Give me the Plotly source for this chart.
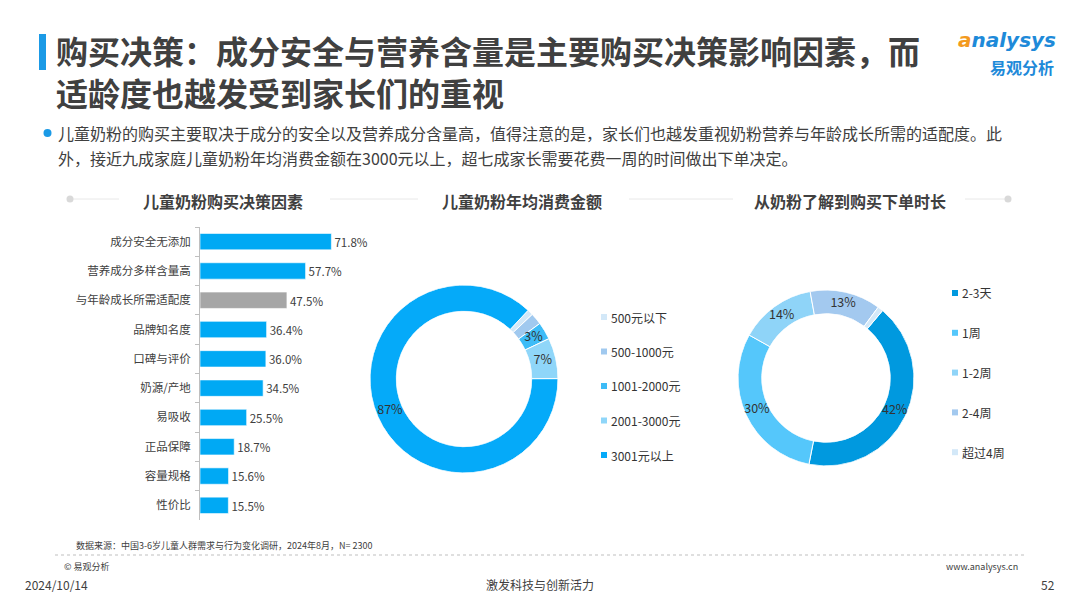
import plotly.graph_objects as go

W, H = 1080, 608
FONT = "Noto Sans CJK SC"

# ---------------- data ----------------
factor_labels = ["成分安全无添加", "营养成分多样含量高", "与年龄成长所需适配度", "品牌知名度", "口碑与评价",
                 "奶源/产地", "易吸收", "正品保障", "容量规格", "性价比"]
factor_values = [71.8, 57.7, 47.5, 36.4, 36.0, 34.5, 25.5, 18.7, 15.6, 15.5]
factor_highlight = "与年龄成长所需适配度"

spend_labels = ["500元以下", "500-1000元", "1001-2000元", "2001-3000元", "3001元以上"]
spend_values = [1, 2, 3, 7, 87]
spend_text = ["", "", "3%", "7%", "87%"]
spend_colors = ["#d3e8f8", "#a0c9ef", "#3dbcf7", "#8fd6f9", "#05aaf9"]

time_labels = ["2-3天", "1周", "1-2周", "2-4周", "超过4周"]
time_values = [42, 30, 14, 13, 1]
time_text = ["42%", "30%", "14%", "13%", ""]
time_colors = ["#0099df", "#55c7fb", "#8fd4f8", "#a3c9ef", "#d3e8f8"]

section_titles = ["儿童奶粉购买决策因素", "儿童奶粉年均消费金额", "从奶粉了解到购买下单时长"]


def px(x):
    return x / W


def py(y):
    return 1 - y / H


def slice_geometry(values, start):
    total = float(sum(values))
    mids, widths, acc = [], [], 0.0
    for v in values:
        mids.append(start + (acc + v / 2.0) / total * 360.0)
        widths.append(v / total * 360.0)
        acc += v
    return mids, widths


fig = go.Figure()

# ---------------- bar chart ----------------
bar_colors = ["#a6a6a6" if c == factor_highlight else "#00a9f4" for c in factor_labels]
fig.add_trace(go.Bar(
    x=factor_values, y=factor_labels, orientation="h",
    marker=dict(color=bar_colors, line=dict(color="rgba(255,255,255,0.6)", width=1)),
    texttemplate="%{x:.1f}%", textposition="outside", cliponaxis=False,
    textfont=dict(family=FONT, size=12, color="#404040"),
    xaxis="x", yaxis="y", showlegend=False, hoverinfo="skip",
))

# ---------------- donuts (polar ring) ----------------
for vals, labs, cols, txt, start, sub in [
    (spend_values, spend_labels, spend_colors, spend_text, 43, "polar"),
    (time_values, time_labels, time_colors, time_text, 40, "polar2"),
]:
    mids, widths = slice_geometry(vals, start)
    fig.add_trace(go.Barpolar(
        r=[1] * len(vals), theta=mids, width=widths, base=0,
        marker=dict(color=cols, line=dict(color="white", width=1)),
        customdata=labs, hovertemplate="%{customdata}<extra></extra>",
        subplot=sub, showlegend=False,
    ))
    fig.add_trace(go.Scatterpolar(
        r=[0.5] * len(vals), theta=mids, text=txt, mode="text",
        textfont=dict(family=FONT, size=12.5, color="#333333"),
        subplot=sub, showlegend=False, hoverinfo="skip", cliponaxis=False,
    ))

polar_common = dict(
    bgcolor="rgba(0,0,0,0)", bargap=0,
    angularaxis=dict(direction="clockwise", rotation=90, visible=False),
    radialaxis=dict(range=[0, 1], visible=False),
)

annotations = []
shapes = []

# title bar
shapes.append(dict(type="rect", xref="paper", yref="paper", x0=px(39), x1=px(46), y0=py(70), y1=py(34),
                   fillcolor="#1b9ae6", line=dict(width=0), layer="above"))

annotations.append(dict(x=px(54), y=py(71), xref="paper", yref="paper", xanchor="left", yanchor="middle",
                        align="left", showarrow=False,
                        text="<b>购买决策：成分安全与营养含量是主要购买决策影响因素，而</b><br><b>适龄度也越发受到家长们的重视</b>",
                        font=dict(family=FONT, size=32, color="#404040")))

# logo
annotations.append(dict(x=px(1058), y=py(40), xref="paper", yref="paper", xanchor="right", yanchor="middle",
                        showarrow=False,
                        text="<i><b><span style='color:#f39a1e'>a</span>nalysys</b></i>",
                        font=dict(family="DejaVu Sans", size=20, color="#1e8ad9")))
annotations.append(dict(x=px(1056), y=py(67), xref="paper", yref="paper", xanchor="right", yanchor="middle",
                        showarrow=False, text="<b>易观分析</b>",
                        font=dict(family=FONT, size=16, color="#1e8ad9")))

# bullet text
shapes.append(dict(type="circle", xref="paper", yref="paper", x0=px(43.5), x1=px(51.5), y0=py(137), y1=py(129),
                   fillcolor="#1b9ae6", line=dict(width=0)))
annotations.append(dict(x=px(56), y=py(133), xref="paper", yref="paper", xanchor="left", yanchor="middle",
                        showarrow=False,
                        text="儿童奶粉的购买主要取决于成分的安全以及营养成分含量高，值得注意的是，家长们也越发重视奶粉营养与年龄成长所需的适配度。此",
                        font=dict(family=FONT, size=16, color="#404040")))
annotations.append(dict(x=px(56), y=py(158), xref="paper", yref="paper", xanchor="left", yanchor="middle",
                        showarrow=False,
                        text="外，接近九成家庭儿童奶粉年均消费金额在3000元以上，超七成家长需要花费一周的时间做出下单决定。",
                        font=dict(family=FONT, size=16, color="#404040")))

# section headers
sec_x = [223, 522, 850]
for t, x in zip(section_titles, sec_x):
    annotations.append(dict(x=px(x), y=py(201), xref="paper", yref="paper", xanchor="center", yanchor="middle",
                            showarrow=False, text="<b>" + t + "</b>",
                            font=dict(family=FONT, size=16, color="#404040")))
for x0, x1 in [(70, 119), (330, 418), (629, 733), (965, 1008)]:
    shapes.append(dict(type="line", xref="paper", yref="paper", x0=px(x0), x1=px(x1), y0=py(199), y1=py(199),
                       line=dict(color="#e8e8e8", width=1)))
for cx in [70, 1008]:
    shapes.append(dict(type="circle", xref="paper", yref="paper", x0=px(cx - 3.5), x1=px(cx + 3.5),
                       y0=py(199 + 3.5), y1=py(199 - 3.5), fillcolor="#d9d9d9", line=dict(width=0)))


# legends (manual)
def add_legend(labels, colors, x, y0, step):
    for i, (lab, col) in enumerate(zip(labels, colors)):
        yy = y0 + i * step
        shapes.append(dict(type="rect", xref="paper", yref="paper", x0=px(x), x1=px(x + 6),
                           y0=py(yy + 3), y1=py(yy - 3), fillcolor=col, line=dict(width=0)))
        annotations.append(dict(x=px(x + 8), y=py(yy), xref="paper", yref="paper", xanchor="left",
                                yanchor="middle", showarrow=False, text=lab,
                                font=dict(family=FONT, size=12, color="#333333")))


add_legend(spend_labels, spend_colors, 601, 317, 34.5)
add_legend(time_labels, time_colors, 952, 293, 39.8)

# footer
annotations.append(dict(x=px(74), y=py(545), xref="paper", yref="paper", xanchor="left", yanchor="middle",
                        showarrow=False, text="数据来源：中国3-6岁儿童人群需求与行为变化调研，2024年8月，N= 2300",
                        font=dict(family=FONT, size=9, color="#404040")))
shapes.append(dict(type="line", xref="paper", yref="paper", x0=px(55), x1=px(1025), y0=py(555), y1=py(555),
                   line=dict(color="#bfbfbf", width=1, dash="dot")))
annotations.append(dict(x=px(62), y=py(566), xref="paper", yref="paper", xanchor="left", yanchor="middle",
                        showarrow=False, text="© 易观分析",
                        font=dict(family=FONT, size=9, color="#404040")))
annotations.append(dict(x=px(1020), y=py(566), xref="paper", yref="paper", xanchor="right", yanchor="middle",
                        showarrow=False, text="www.analysys.cn",
                        font=dict(family=FONT, size=9, color="#404040")))
annotations.append(dict(x=px(23), y=py(584), xref="paper", yref="paper", xanchor="left", yanchor="middle",
                        showarrow=False, text="2024/10/14",
                        font=dict(family=FONT, size=12, color="#404040")))
annotations.append(dict(x=px(540), y=py(584), xref="paper", yref="paper", xanchor="center", yanchor="middle",
                        showarrow=False, text="激发科技与创新活力",
                        font=dict(family=FONT, size=12, color="#404040")))
annotations.append(dict(x=px(1057), y=py(584), xref="paper", yref="paper", xanchor="right", yanchor="middle",
                        showarrow=False, text="52",
                        font=dict(family=FONT, size=12, color="#404040")))

fig.update_layout(
    width=W, height=H, margin=dict(l=0, r=0, t=0, b=0),
    paper_bgcolor="white", plot_bgcolor="white",
    font=dict(family=FONT, color="#404040"),
    bargap=0.44,
    xaxis=dict(domain=[px(200), px(383)], range=[0, 100], visible=False, fixedrange=True),
    yaxis=dict(domain=[py(520), py(227)], autorange="reversed", showline=True, linecolor="#bfbfbf",
               linewidth=1, ticks="outside", tickson="boundaries", ticklen=4, tickcolor="#bfbfbf",
               tickfont=dict(family=FONT, size=11.5, color="#404040"), showgrid=False, zeroline=False,
               ticklabelstandoff=6),
    polar=dict(domain=dict(x=[px(370), px(558)], y=[py(473), py(285)]), hole=0.72, **polar_common),
    polar2=dict(domain=dict(x=[px(738), px(914)], y=[py(466), py(290)]), hole=0.73, **polar_common),
    annotations=annotations, shapes=shapes,
)

fig.write_html("out.html", config={"displayModeBar": False},
               post_script="document.body.style.margin='0px';")
